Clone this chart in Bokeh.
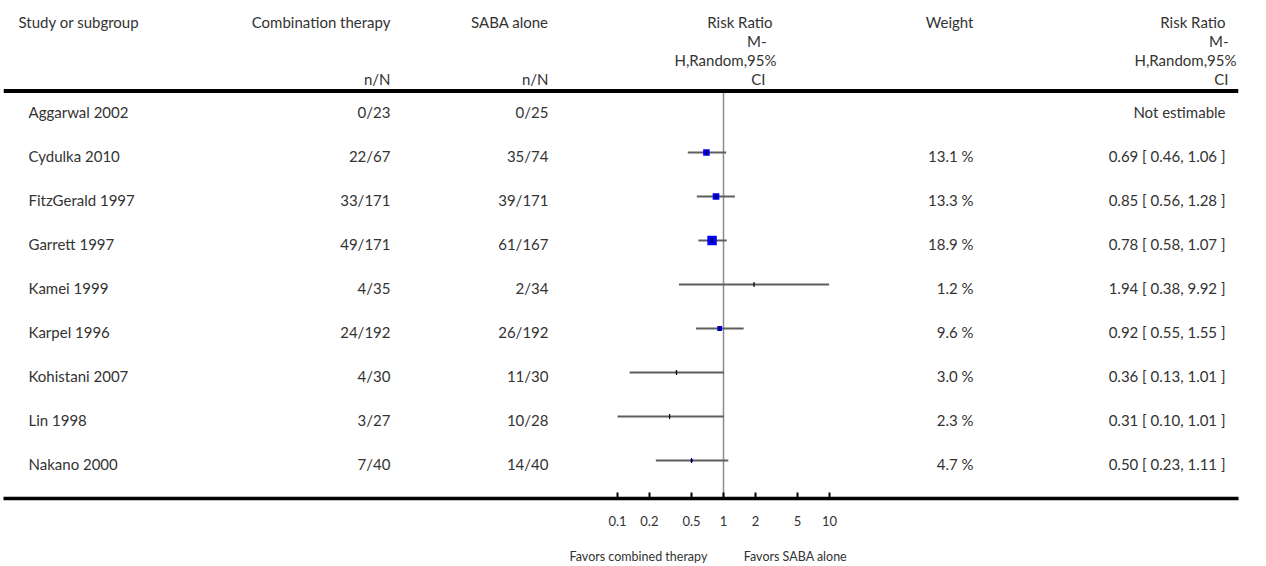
import numpy as np
from bokeh.plotting import figure
from bokeh.models import (Range1d, LogScale, LogAxis, LinearAxis, FixedTicker, Span,
                          ColumnDataSource)
from bokeh.core.properties import value
from bokeh.embed import file_html
from bokeh.resources import INLINE

# ---------------- data ----------------
studies = ["Aggarwal 2002", "Cydulka 2010", "FitzGerald 1997", "Garrett 1997", "Kamei 1999",
           "Karpel 1996", "Kohistani 2007", "Lin 1998", "Nakano 2000"]
combo_nN = ["0/23", "22/67", "33/171", "49/171", "4/35", "24/192", "4/30", "3/27", "7/40"]
saba_nN = ["0/25", "35/74", "39/171", "61/167", "2/34", "26/192", "11/30", "10/28", "14/40"]
rr = [None, 0.69, 0.85, 0.78, 1.94, 0.92, 0.36, 0.31, 0.50]
rr_lo = [None, 0.46, 0.56, 0.58, 0.38, 0.55, 0.13, 0.10, 0.23]
rr_hi = [None, 1.06, 1.28, 1.07, 9.92, 1.55, 1.01, 1.01, 1.11]
weight = [None, 13.1, 13.3, 18.9, 1.2, 9.6, 3.0, 2.3, 4.7]
ticks = [0.1, 0.2, 0.5, 1, 2, 5, 10]
tick_labels = ["0.1", "0.2", "0.5", "1", "2", "5", "10"]
left_note = "Favors combined therapy"
right_note = "Favors SABA alone"

# ---------------- layout ----------------
W, H = 1266, 566
FL, FR = 3, 1238          # frame left / right in page pixels
FB = 498                  # frame bottom (axis line)
ONE_PX = 723              # pixel of RR = 1
DECADE_PX = 106           # pixels per decade
ROW0, ROWSTEP = 108, 44
FONT = value("Lato")
FS = "15px"
TXT = "#333333"

p = figure(width=W, height=H, output_backend="svg", toolbar_location=None,
           x_range=Range1d(FL, FR), y_range=Range1d(FB, 0),
           x_axis_location=None, y_axis_location=None,
           min_border_left=FL, min_border_right=W - FR, min_border_top=0,
           min_border_bottom=H - FB, outline_line_color=None,
           background_fill_color="white", border_fill_color="white")
p.grid.visible = False

lg_lo = (FL - ONE_PX) / DECADE_PX
lg_hi = (FR - ONE_PX) / DECADE_PX
p.extra_x_ranges = {"rr": Range1d(10 ** lg_lo, 10 ** lg_hi)}
p.extra_x_scales = {"rr": LogScale()}

ax = LogAxis(x_range_name="rr", ticker=FixedTicker(ticks=ticks),
             major_label_overrides={t: l for t, l in zip(ticks, tick_labels)})
ax.axis_line_width = 3.5
ax.axis_line_color = "black"
ax.major_tick_in = 6
ax.major_tick_out = 0
ax.major_tick_line_width = 2
ax.major_tick_line_color = "black"
ax.minor_tick_line_color = None
ax.major_label_standoff = 17
ax.major_label_text_font = "Lato"
ax.major_label_text_font_size = "13px"
ax.major_label_text_color = TXT
p.add_layout(ax, "below")

# second (label-only) axis carrying the two direction notes
note_centers = [ONE_PX - 85, ONE_PX + 72]
ax2 = LinearAxis(ticker=FixedTicker(ticks=note_centers),
                 major_label_overrides={note_centers[0]: left_note, note_centers[1]: right_note})
ax2.axis_line_color = None
ax2.major_tick_line_color = None
ax2.minor_tick_line_color = None
ax2.major_tick_in = 0
ax2.major_tick_out = 0
ax2.major_label_standoff = 20
ax2.major_label_text_font = "Lato"
ax2.major_label_text_font_size = "12.5px"
ax2.major_label_text_color = TXT
p.add_layout(ax2, "below")

n = len(studies)
ys = [ROW0 + ROWSTEP * i for i in range(n)]
ty = [y + 3 for y in ys]

def txt(x, y, t, align, size=FS):
    p.text(x=x, y=y, text=t, text_align=align, text_baseline="middle",
           text_font=FONT, text_font_size=size, text_color=TXT)

# header
txt([18], [21], ["Study or subgroup"], "left")
txt([390], [21], ["Combination therapy"], "right")
txt([548], [21], ["SABA alone"], "right")
txt([390, 548], [78, 78], ["n/N", "n/N"], "right")
hdr = ["Risk Ratio", "M-", "H,Random,95%", "CI"]
hy = [21, 40, 59, 78]
txt([772, 766, 776, 765], hy, hdr, "right")
txt([973], [21], ["Weight"], "right")
txt([1225, 1228, 1236, 1228], hy, hdr, "right")

p.add_layout(Span(location=90.5, dimension="width", line_color="black", line_width=4))

# rows
txt([28] * n, ty, studies, "left")
txt([390] * n, ty, combo_nN, "right")
txt([548] * n, ty, saba_nN, "right")
wtxt = ["" if w is None else f"{w:.1f} %" for w in weight]
rtxt = ["Not estimable" if r is None else f"{r:.2f} [ {l:.2f}, {h:.2f} ]"
        for r, l, h in zip(rr, rr_lo, rr_hi)]
txt([973] * n, ty, wtxt, "right")
txt([1225] * n, ty, rtxt, "right")

# forest marks
idx = [i for i in range(n) if rr[i] is not None]
src = ColumnDataSource(dict(
    y=[ys[i] for i in idx], rr=[rr[i] for i in idx], lo=[rr_lo[i] for i in idx],
    hi=[rr_hi[i] for i in idx], sz=[0.5 * weight[i] for i in idx]))

p.segment(x0=1, x1=1, y0=92, y1=FB, x_range_name="rr", line_color="#8c8c8c", line_width=1.5)
p.segment(x0="lo", x1="hi", y0="y", y1="y", source=src, x_range_name="rr",
          line_color="#5e5e5e", line_width=2)
p.scatter(x="rr", y="y", size="sz", marker="square", source=src, x_range_name="rr",
          fill_color="#0000ff", line_color=None)
p.scatter(x="rr", y="y", size=5, marker="dash", angle=np.pi / 2, source=src,
          x_range_name="rr", line_color="black", line_width=1.2)

open("out.html", "w").write(file_html(p, INLINE))
